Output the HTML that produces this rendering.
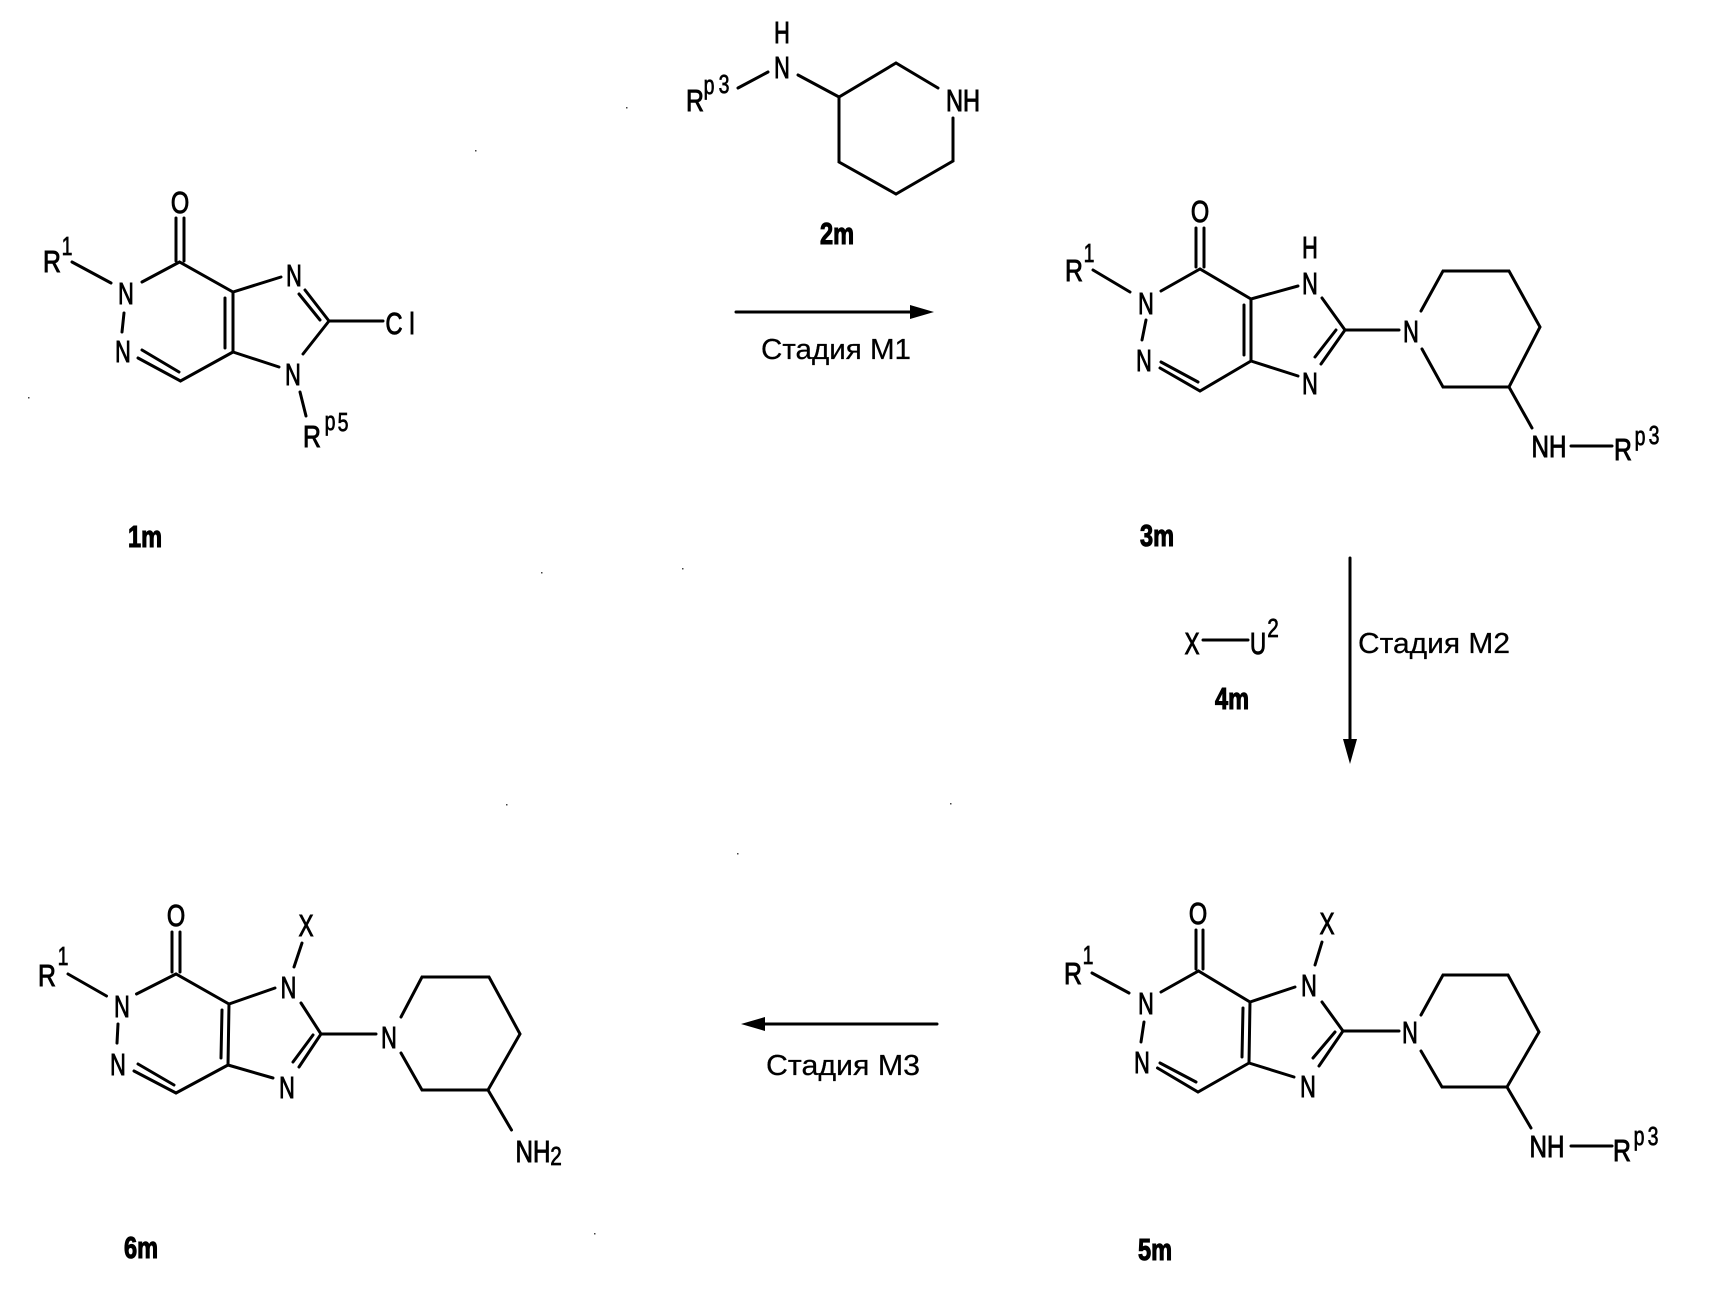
<!DOCTYPE html>
<html lang="ru">
<head>
<meta charset="utf-8">
<title>Схема реакций</title>
<style>
html,body{margin:0;padding:0;background:#fff;width:1730px;height:1290px;overflow:hidden}
svg{display:block}
text{font-family:"Liberation Sans",Arial,sans-serif;fill:#000;text-anchor:middle}
.a{font-size:31px;stroke:#000;stroke-width:1px}
.s{font-size:26px;stroke:#000;stroke-width:.7px}
.b{font-size:31px;font-weight:bold;stroke:#000;stroke-width:1.1px}
.l{font-size:29px;stroke:#000;stroke-width:.25px}
path{fill:none;stroke:#000;stroke-width:3;stroke-linecap:round;stroke-linejoin:miter}
path.h{fill:#000;stroke:none}
</style>
</head>
<body>
<svg width="1730" height="1290" viewBox="0 0 1730 1290" xmlns="http://www.w3.org/2000/svg">

<!-- 1m -->
<path d="M176 218V261M184 218V261M72 262L111 283M142 282L179.500 262L233 292L281 277M305 290L329 321M299 294L320 320M329 321H383M329 321L303 354M279 367L233 352M233 292V352M225 298V348M233 352L180.500 381L138 358M179 372L142 350M124 313L122 332M300 392L306 416"/>
<text class="a" transform="translate(180 213) scale(.76 1)">O</text>
<text class="a" transform="translate(52 272) scale(.8 1)">R</text>
<text class="s" transform="translate(67 255) scale(.75 1)">1</text>
<text class="a" transform="translate(126 304) scale(.7 1)">N</text>
<text class="a" transform="translate(123 362) scale(.7 1)">N</text>
<text class="a" transform="translate(294 286) scale(.7 1)">N</text>
<text class="a" transform="translate(293 385) scale(.7 1)">N</text>
<text class="a" transform="translate(394 334) scale(.76 1)">C</text>
<text class="a" transform="translate(412 334) scale(.76 1)">l</text>
<text class="a" transform="translate(312 447) scale(.8 1)">R</text>
<text class="s" transform="translate(330 430) scale(.75 1)">p</text>
<text class="s" transform="translate(343 431) scale(.75 1)">5</text>
<text class="b" transform="translate(145 547) scale(.76 1)">1m</text>

<!-- 2m -->
<path d="M738 88L768 72M798 75L839 97L896 63L938 88M953 118V161L896 194L839 162V97"/>
<text class="a" transform="translate(782 43) scale(.7 1)">H</text>
<text class="a" transform="translate(782 78) scale(.7 1)">N</text>
<text class="a" transform="translate(695 111) scale(.8 1)">R</text>
<text class="s" transform="translate(709 94) scale(.75 1)">p</text>
<text class="s" transform="translate(724 93) scale(.75 1)">3</text>
<text class="a" transform="translate(963 111) scale(.76 1)">NH</text>
<text class="b" transform="translate(837 244) scale(.76 1)">2m</text>

<!-- Arrow M1 -->
<path d="M736 312H915"/>
<path class="h" d="M934 312L910 305V319Z"/>
<text class="l" x="836" y="359" textLength="150" lengthAdjust="spacingAndGlyphs">Стадия М1</text>

<!-- 3m -->
<path d="M1196 228V267M1204 228V267M1093 270L1130 292M1146 320L1142 340M1161 291L1200 269L1251 299L1298 286M1322 298L1345 330L1321 364M1336 330L1315 357M1298 376L1251 361M1251 299V361M1244 305V355M1251 361L1200 391L1160 368M1198 382L1161 362M1345 330H1399M1421 311L1443 271H1509L1540 327L1509 387H1443L1422 349M1509 387L1532 428M1571 446H1612"/>
<text class="a" transform="translate(1200 222) scale(.76 1)">O</text>
<text class="a" transform="translate(1074 281) scale(.8 1)">R</text>
<text class="s" transform="translate(1089 262) scale(.75 1)">1</text>
<text class="a" transform="translate(1146 314) scale(.7 1)">N</text>
<text class="a" transform="translate(1144 371) scale(.7 1)">N</text>
<text class="a" transform="translate(1310 258) scale(.7 1)">H</text>
<text class="a" transform="translate(1310 294) scale(.7 1)">N</text>
<text class="a" transform="translate(1310 394) scale(.7 1)">N</text>
<text class="a" transform="translate(1411 342) scale(.7 1)">N</text>
<text class="a" transform="translate(1549 457) scale(.78 1)">NH</text>
<text class="a" transform="translate(1623 460) scale(.8 1)">R</text>
<text class="s" transform="translate(1640 445) scale(.75 1)">p</text>
<text class="s" transform="translate(1654 444) scale(.75 1)">3</text>
<text class="b" transform="translate(1157 546) scale(.76 1)">3m</text>

<!-- Arrow M2 and 4m -->
<path d="M1350 558V745"/>
<path class="h" d="M1350 764L1343 739H1357Z"/>
<text class="l" x="1434" y="653" textLength="152" lengthAdjust="spacingAndGlyphs">Стадия М2</text>
<path d="M1203 640H1248"/>
<text class="a" transform="translate(1192 654) scale(.72 1)">X</text>
<text class="a" transform="translate(1258 654) scale(.72 1)">U</text>
<text class="s" transform="translate(1273 637) scale(.8 1)">2</text>
<text class="b" transform="translate(1232 709) scale(.76 1)">4m</text>

<!-- 5m -->
<path d="M1196 930V969M1203 930V969M1322 942L1315 965M1092 973L1129 993M1144 1022L1141 1042M1161 992L1198.500 971L1250 1002L1295 987M1322 1002L1343 1031L1319 1066M1335 1032L1313 1058M1294 1077L1249 1063M1250 1002L1249 1063M1243 1008L1242 1057M1249 1063L1198 1092L1157.500 1068M1196 1082L1160 1063M1343 1031H1399M1421 1015L1443 975H1508L1539 1032L1507 1087H1442L1421 1051M1507 1087L1531 1128M1571 1146H1612"/>
<text class="a" transform="translate(1198 924) scale(.76 1)">O</text>
<text class="a" transform="translate(1327 934) scale(.72 1)">X</text>
<text class="a" transform="translate(1073 984) scale(.8 1)">R</text>
<text class="s" transform="translate(1088 964) scale(.75 1)">1</text>
<text class="a" transform="translate(1146 1014) scale(.7 1)">N</text>
<text class="a" transform="translate(1142 1073) scale(.7 1)">N</text>
<text class="a" transform="translate(1309 996) scale(.7 1)">N</text>
<text class="a" transform="translate(1308 1097) scale(.7 1)">N</text>
<text class="a" transform="translate(1410 1043) scale(.7 1)">N</text>
<text class="a" transform="translate(1547 1157) scale(.78 1)">NH</text>
<text class="a" transform="translate(1622 1161) scale(.8 1)">R</text>
<text class="s" transform="translate(1639 1145) scale(.75 1)">p</text>
<text class="s" transform="translate(1653 1145) scale(.75 1)">3</text>
<text class="b" transform="translate(1155 1260) scale(.76 1)">5m</text>

<!-- Arrow M3 -->
<path d="M760 1024H937"/>
<path class="h" d="M741 1024L765 1017V1031Z"/>
<text class="l" x="843" y="1075" textLength="154" lengthAdjust="spacingAndGlyphs">Стадия М3</text>

<!-- 6m -->
<path d="M172 932V972M180 932V972M302 943L294 967M68 974L106.500 996M118 1024L117 1043M136.500 994L176 974L229 1004L275 988M301 1003L321 1034L299 1067M313 1035L293 1062M273 1078L228 1065M229 1004L228 1065M222 1010L221 1058M228 1065L176 1093L134 1071M174 1085L138 1064M321 1034H376M401 1017L422 977H489L520 1034L488 1090H422L401 1053M488 1090L511.500 1130"/>
<text class="a" transform="translate(176 926) scale(.76 1)">O</text>
<text class="a" transform="translate(306 936) scale(.72 1)">X</text>
<text class="a" transform="translate(47 986) scale(.8 1)">R</text>
<text class="s" transform="translate(63 965) scale(.75 1)">1</text>
<text class="a" transform="translate(122 1017) scale(.7 1)">N</text>
<text class="a" transform="translate(118 1075) scale(.7 1)">N</text>
<text class="a" transform="translate(288.500 998) scale(.7 1)">N</text>
<text class="a" transform="translate(287 1098) scale(.7 1)">N</text>
<text class="a" transform="translate(389 1048) scale(.7 1)">N</text>
<text class="a" transform="translate(533 1162) scale(.78 1)">NH</text>
<text class="s" transform="translate(556 1165) scale(.8 1)">2</text>
<text class="b" transform="translate(141 1258) scale(.76 1)">6m</text>

<!-- Specks -->
<g fill="#444">
<rect x="626" y="107" width="1.500" height="1.500"/>
<rect x="475" y="150" width="1.500" height="1.500"/>
<rect x="28" y="397" width="1.500" height="1.500"/>
<rect x="541" y="572" width="1.500" height="1.500"/>
<rect x="682" y="568" width="1.500" height="1.500"/>
<rect x="506" y="804" width="1.500" height="1.500"/>
<rect x="950" y="803" width="1.500" height="1.500"/>
<rect x="737" y="853" width="1.500" height="1.500"/>
<rect x="594" y="1233" width="1.500" height="1.500"/>
</g>
</svg>
</body>
</html>
